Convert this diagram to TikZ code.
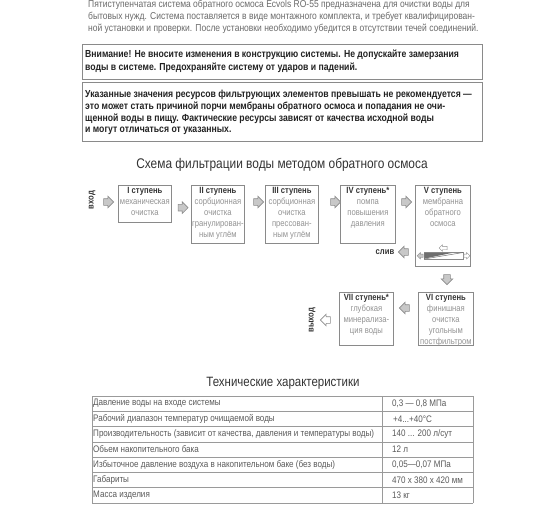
\documentclass[tikz,border=0pt]{standalone}
\usepackage{fontspec}
\setmainfont{Liberation Sans}[FakeStretch=0.85]
\usetikzlibrary{shapes.arrows,calc}
\definecolor{introgray}{HTML}{6A6A6A}
\definecolor{warntext}{HTML}{222222}
\definecolor{boxline}{HTML}{8A8A8A}
\definecolor{headtext}{HTML}{333333}
\definecolor{desctext}{HTML}{929292}
\definecolor{arrowfill}{HTML}{C8C8C8}
\definecolor{arrowline}{HTML}{8A8A8A}
\definecolor{tabletext}{HTML}{5A5A5A}
\definecolor{tableline}{HTML}{9A9A9A}
\definecolor{memdark}{HTML}{6E6E6E}
\tikzset{
  intro/.style={anchor=west, inner sep=0pt, text=introgray, font=\fontsize{10}{12}\selectfont},
  warn/.style={anchor=west, inner sep=0pt, text=warntext, font=\bfseries\fontsize{10.2}{12}\selectfont},
  warnbox/.style={draw=boxline, line width=1.3pt, anchor=north west, inner sep=0pt},
  stagebox/.style={draw=boxline, line width=0.8pt, anchor=north west, inner sep=0pt},
  stagetext/.style={anchor=north, inner sep=0pt, align=center, text=desctext,
     font=\fontsize{9}{11}\selectfont},
  flowarrow/.style={single arrow, draw=arrowline, fill=arrowfill, line width=0.6pt,
     minimum height=10pt, single arrow head extend=2.5pt, single arrow head indent=0pt,
     inner xsep=0pt, inner ysep=3pt},
  sidelabel/.style={inner sep=0pt, text=headtext, font=\bfseries\fontsize{9}{11}\selectfont},
  celltext/.style={anchor=west, inner sep=0pt, text=tabletext, font=\fontsize{9.5}{11}\selectfont},
  heading/.style={inner sep=0pt, text=headtext, font=\fontsize{14}{16}\selectfont}
}
\newcommand{\hd}[1]{{\color{headtext}\bfseries #1}}
\begin{document}
\begin{tikzpicture}[x=1pt,y=-1pt]
\useasboundingbox (0,0) rectangle (560,504);
% intro
\node[intro] (p1) at (88,5) {Пятиступенчатая система обратного осмоса Ecvols RO-55 предназначена для очистки воды для};
\node[intro] (p2) at (88,17) {бытовых нужд. Система поставляется в виде монтажного комплекта, и требует квалифицирован-};
\node[intro] (p3) at (88,29) {ной установки и проверки. После установки необходимо убедится в отсутствии течей соединений.};
% warning 1
\node[warnbox, minimum width=400pt, minimum height=35pt] (w1) at (82,44) {};
\node[warn] (w1a) at (85,55) {Внимание! Не вносите изменения в конструкцию системы. Не допускайте замерзания};
\node[warn] (w1b) at (85,68) {воды в системе. Предохраняйте систему от ударов и падений.};
% warning 2
\node[warnbox, minimum width=400pt, minimum height=59pt] (w2) at (82,82) {};
\node[warn] (w2a) at (85,95) {Указанные значения ресурсов фильтрующих элементов превышать не рекомендуется —};
\node[warn] (w2b) at (85,107) {это может стать причиной порчи мембраны обратного осмоса и попадания не очи-};
\node[warn] (w2c) at (85,119) {щенной воды в пищу. Фактические ресурсы зависят от качества исходной воды};
\node[warn] (w2d) at (85,131) {и могут отличаться от указанных.};
% title
\node[heading] (t1) at (282,165) {Схема фильтрации воды методом обратного осмоса};
% stage boxes
\node[stagebox, minimum width=53pt, minimum height=37pt] (s1) at (118,185) {};
\node[stagebox, minimum width=53pt, minimum height=58pt] (s2) at (191,185) {};
\node[stagebox, minimum width=53pt, minimum height=58pt] (s3) at (265,185) {};
\node[stagebox, minimum width=55pt, minimum height=58pt] (s4) at (340,185) {};
\node[stagebox, minimum width=55pt, minimum height=81pt] (s5) at (415,185) {};
\node[stagebox, minimum width=55pt, minimum height=53pt] (s6) at (418,292) {};
\node[stagebox, minimum width=54pt, minimum height=53pt] (s7) at (339,292) {};
% stage texts
\node[stagetext] (s1t) at ([yshift=-2pt]s1.north) {\hd{I ступень}\\механическая\\очистка};
\node[stagetext] (s2t) at ([yshift=-2pt]s2.north) {\hd{II ступень}\\сорбционная\\очистка\\гранулирован-\\ным углём};
\node[stagetext] (s3t) at ([yshift=-2pt]s3.north) {\hd{III ступень}\\сорбционная\\очистка\\прессован-\\ным углём};
\node[stagetext] (s4t) at ([yshift=-2pt]s4.north) {\hd{IV ступень*}\\помпа\\повышения\\давления};
\node[stagetext] (s5t) at ([yshift=-2pt]s5.north) {\hd{V ступень}\\мембранна\\обратного\\осмоса};
\node[stagetext] (s6t) at ([yshift=-2pt]s6.north) {\hd{VI ступень}\\финишная\\очистка\\угольным\\постфильтром};
\node[stagetext] (s7t) at ([yshift=-2pt]s7.north) {\hd{VII ступень*}\\глубокая\\минерализа-\\ция воды};
% side labels
\node[sidelabel, rotate=90] (vin) at (92,200) {вход};
\node[sidelabel] (drain) at (385,252) {слив};
\node[sidelabel, rotate=90] (vout) at (312,320) {выход};
% flow arrows
\node[flowarrow] (a0) at (107,202) {};
\node[flowarrow] (a1) at ($(s1.east)!0.5!(s2.west)+(0,-1.5)$) {};
\node[flowarrow] (a2) at (257,202) {};
\node[flowarrow] (a3) at (334,202) {};
\node[flowarrow] (a4) at (405,202) {};
\node[flowarrow, rotate=180] (a5) at (405,252) {};
\node[flowarrow, rotate=-90] (a6) at (447,278) {};
\node[flowarrow, rotate=180] (a7) at (406,308) {};
\node[flowarrow, rotate=180, fill=white] (a8) at (327,320) {};
% membrane symbol
\draw[draw=arrowline, line width=0.6pt, fill=white] (424,252.5) rectangle (463,259);
\fill[memdark] (424.4,252.9) -- (452,252.9) -- (424.4,258.6) -- cycle;
\draw[draw=memdark, line width=0.5pt] (424,259) -- (463,252.5);
\node[flowarrow, rotate=180, minimum height=6pt, single arrow head extend=1.5pt, inner ysep=1.5pt, line width=0.4pt] (ma) at (421,255.8) {};
\node[flowarrow, minimum height=6pt, single arrow head extend=1.5pt, inner ysep=1.5pt, line width=0.4pt, fill=white] (mb) at (466,255.8) {};
\node[flowarrow, rotate=180, minimum height=8pt, single arrow head extend=1.5pt, inner ysep=1.5pt, line width=0.4pt, fill=white] (mc) at (444,248) {};
% technical table
\node[heading, font=\fontsize{13.5}{16}\selectfont] (t2) at (283,383) {Технические характеристики};
\foreach \k in {0,...,7} {
  \draw[tableline, line width=0.7pt] (92,396+15.3*\k) -- (473,396+15.3*\k);
}
\draw[tableline, line width=0.7pt] (92,396) -- (92,503.1);
\draw[tableline, line width=0.7pt] (382,396) -- (382,503.1);
\draw[tableline, line width=0.7pt] (473,396) -- (473,503.1);
\node[celltext] (r1a) at (93,403.65) {Давление воды на входе системы};
\node[celltext] (r1b) at (392,403.65) {0,3 — 0,8 МПа};
\node[celltext] (r2a) at (93,418.95) {Рабочий диапазон температур очищаемой воды};
\node[celltext] (r2b) at (393,418.95) {+4...+40°C};
\node[celltext] (r3a) at (93,434.25) {Производительность (зависит от качества, давления и температуры воды)};
\node[celltext] (r3b) at (392,434.25) {140 ... 200 л/сут};
\node[celltext] (r4a) at (93,449.55) {Обьем накопительного бака};
\node[celltext] (r4b) at (392,449.55) {12 л};
\node[celltext] (r5a) at (93,464.85) {Избыточное давление воздуха в накопительном баке (без воды)};
\node[celltext] (r5b) at (392,464.85) {0,05—0,07 МПа};
\node[celltext] (r6a) at (93,480.15) {Габариты};
\node[celltext] (r6b) at (392,480.15) {470 x 380 x 420 мм};
\node[celltext] (r7a) at (93,495.45) {Масса изделия};
\node[celltext] (r7b) at (392,495.45) {13 кг};
\end{tikzpicture}
\end{document}
